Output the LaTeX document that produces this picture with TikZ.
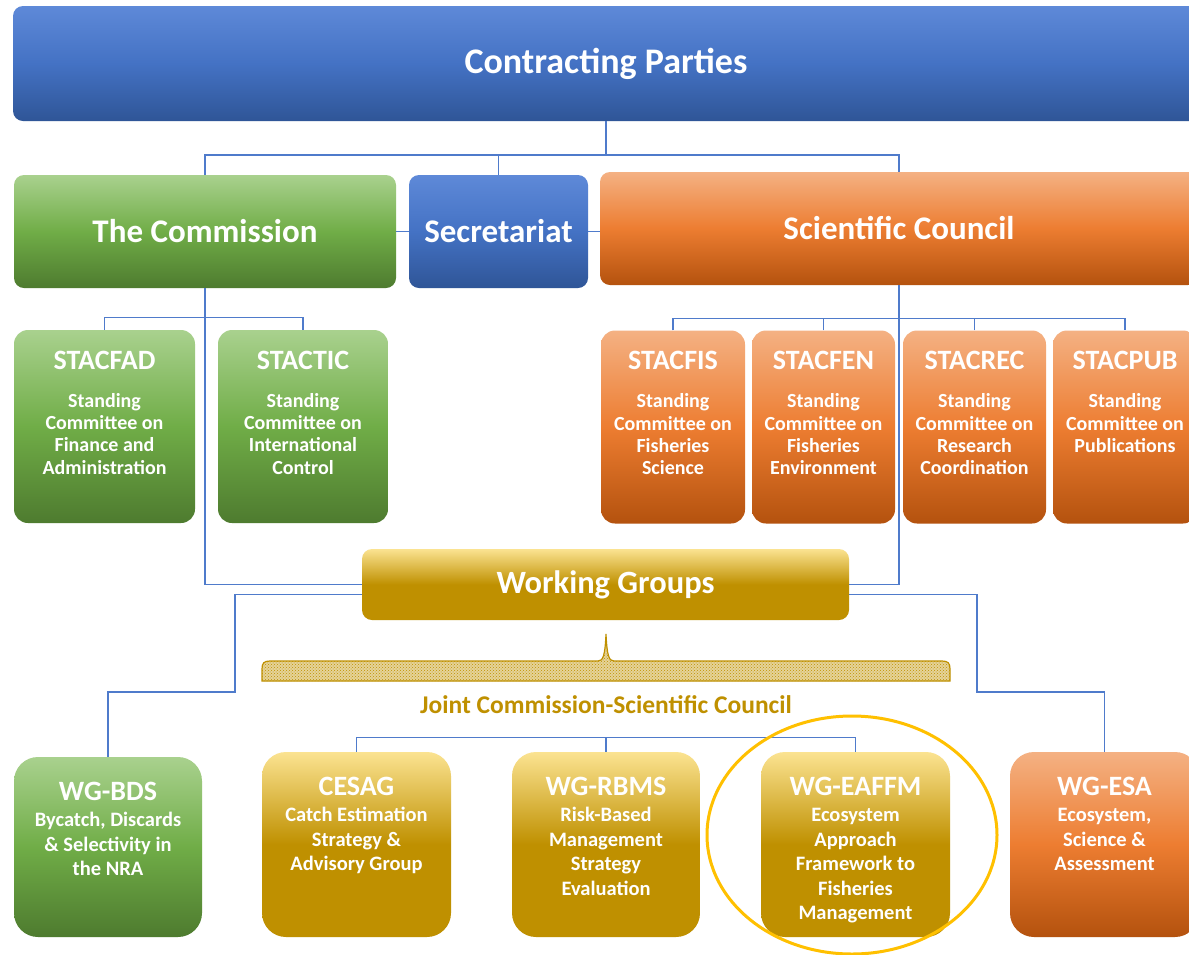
\documentclass[tikz,border=0pt]{standalone}
\usepackage{fontspec}
\setmainfont{Carlito}
\usetikzlibrary{shapes.geometric,patterns}
\definecolor{bluetop}{HTML}{5E89D8}
\definecolor{bluemid}{HTML}{4472C4}
\definecolor{bluebot}{HTML}{2F5597}
\definecolor{greentop}{HTML}{A9D18E}
\definecolor{greenmid}{HTML}{70AD47}
\definecolor{greenbot}{HTML}{4E7B2F}
\definecolor{orangetop}{HTML}{F4B183}
\definecolor{orangemid}{HTML}{ED7D31}
\definecolor{orangebot}{HTML}{B4520E}
\definecolor{goldtop}{HTML}{FBE391}
\definecolor{goldmid}{HTML}{BF9000}
\definecolor{goldbot}{HTML}{BF9000}
\definecolor{linecol}{HTML}{4F7BCB}
\definecolor{ringcol}{HTML}{FFC000}
\newcommand{\stacbody}[3]{\parbox[c][193pt][t]{#1pt}{\centering\vspace*{21pt}{\fontsize{28}{28}\selectfont #2\par}\vspace{15.7pt}{\fontsize{20}{22.3}\selectfont #3\par}}}
\newcommand{\wgbody}[4]{\parbox[c][#1pt][t]{#2pt}{\centering\vspace*{25pt}{\fontsize{28}{28}\selectfont #3\par}\vspace{1.8pt}{\fontsize{20.5}{24.5}\selectfont #4\par}}}
\begin{document}
\begin{tikzpicture}[x=1pt,y=-1pt,
  base/.style={rounded corners=10pt, inner sep=0pt, text=white, font=\bfseries},
  bluebox/.style={base, top color=bluetop, bottom color=bluebot, middle color=bluemid},
  greenbox/.style={base, top color=greentop, bottom color=greenbot, middle color=greenmid},
  orangebox/.style={base, top color=orangetop, bottom color=orangebot, middle color=orangemid},
  goldbox/.style={base, top color=goldtop, bottom color=goldbot, middle color=goldmid},
  bigtxt/.style={font=\bfseries\fontsize{33}{33}\selectfont},
  stacbox/.style={rounded corners=14pt},
  wgbox/.style={rounded corners=24pt},
  conn/.style={draw=linecol, line width=1.3pt}]
\useasboundingbox (0,0) rectangle (1189,954);
\clip (0,0) rectangle (1189,954);
\fill[white] (0,0) rectangle (1189,954);

% top level
\node[bluebox, minimum width=1186, minimum height=115, font=\bfseries\fontsize{36}{36}\selectfont] (cp) at (606,63.5) {Contracting Parties};
\node[greenbox, bigtxt, minimum width=382, minimum height=113] (comm) at (205,231.5) {The Commission};
\node[bluebox, bigtxt, minimum width=179, minimum height=113] (sec) at (498.5,231.5) {Secretariat};
\node[orangebox, bigtxt, minimum width=598, minimum height=113] (sc) at (899,228.5) {Scientific Council};

% standing committees
\node[greenbox, stacbox] (stacfad) at (104.5,426.5) {\stacbody{181}{STACFAD}{Standing\\Committee on\\Finance and\\Administration}};
\node[greenbox, stacbox] (stactic) at (303,426.5) {\stacbody{170}{STACTIC}{Standing\\Committee on\\International\\Control}};
\node[orangebox, stacbox] (stacfis) at (673,427) {\stacbody{144}{STACFIS}{Standing\\Committee on\\Fisheries\\Science}};
\node[orangebox, stacbox] (stacfen) at (823.5,427) {\stacbody{143}{STACFEN}{Standing\\Committee on\\Fisheries\\Environment}};
\node[orangebox, stacbox] (stacrec) at (974.5,427) {\stacbody{143}{STACREC}{Standing\\Committee on\\Research\\Coordination}};
\node[orangebox, stacbox] (stacpub) at (1125,427) {\stacbody{144}{STACPUB}{Standing\\Committee on\\Publications}};

% working groups
\node[goldbox, font=\bfseries\fontsize{32.5}{32.5}\selectfont, minimum width=487, minimum height=71] (wg) at (605.5,584.5) {Working Groups};

% bottom boxes
\node[greenbox, wgbox] (bds) at (108,847) {\wgbody{180}{188}{WG-BDS}{Bycatch, Discards\\\& Selectivity in\\the NRA}};
\node[goldbox, wgbox] (cesag) at (356.5,844.5) {\wgbody{185}{189}{CESAG}{Catch Estimation\\Strategy \&\\Advisory Group}};
\node[goldbox, wgbox] (rbms) at (606,844.5) {\wgbody{185}{188}{WG-RBMS}{Risk-Based\\Management\\Strategy\\Evaluation}};
\node[goldbox, wgbox] (eaffm) at (855.5,844.5) {\wgbody{185}{189}{WG-EAFFM}{Ecosystem\\Approach\\Framework to\\Fisheries\\Management}};
\node[orangebox, wgbox] (esa) at (1104.5,844.5) {\wgbody{185}{189}{WG-ESA}{Ecosystem,\\Science \&\\Assessment}};

% joint label and brace
\node[text=goldmid, font=\bfseries\fontsize{25.5}{25.5}\selectfont] (joint) at (606,705) {Joint Commission-Scientific Council};
\path[draw=goldmid, line width=1.2pt, fill=goldmid!40!white, postaction={pattern=crosshatch dots, pattern color=goldmid}]
  (262,681) -- (262,669) .. controls (262,663) and (264,661) .. (270,661) -- (598,661)
  .. controls (603,661) and (605,656) .. (606,634)
  .. controls (607,656) and (609,661) .. (614,661) -- (942,661)
  .. controls (948,661) and (950,663) .. (950,669) -- (950,681) -- cycle;

% connectors
\coordinate (tbus) at (606,155);
\coordinate (lk) at (235,692);
\coordinate (rk) at (977,692);
\draw[conn] (cp.south) -- (tbus);
\draw[conn] (comm.north) |- (tbus) -| (sc.north);
\draw[conn] (sec.north) -- (sec.north |- tbus);
\draw[conn] (comm.east) -- (sec.west);
\draw[conn] (sec.east) -- (sec.east -| sc.west);
\draw[conn] (stacfad.north) -- ++(0,-12) -| (stactic.north);
\draw[conn] (comm.south) |- (wg.west);
\draw[conn] (stacfis.north) -- ++(0,-12) -| (stacpub.north);
\draw[conn] (stacfen.north) -- ++(0,-12);
\draw[conn] (stacrec.north) -- ++(0,-12);
\draw[conn] (sc.south) |- (wg.east);
\draw[conn] ([yshift=-10pt]wg.west) -| (lk) -| (bds.north);
\draw[conn] ([yshift=-10pt]wg.east) -| (rk) -| (esa.north);
\draw[conn] (cesag.north) -- ++(0,-14) -| (eaffm.north);
\draw[conn] (rbms.north) -- ++(0,-14);

% highlight ring
\node[draw=ringcol, line width=3pt, ellipse, minimum width=290, minimum height=238] (ring) at (852,835) {};
\end{tikzpicture}
\end{document}
